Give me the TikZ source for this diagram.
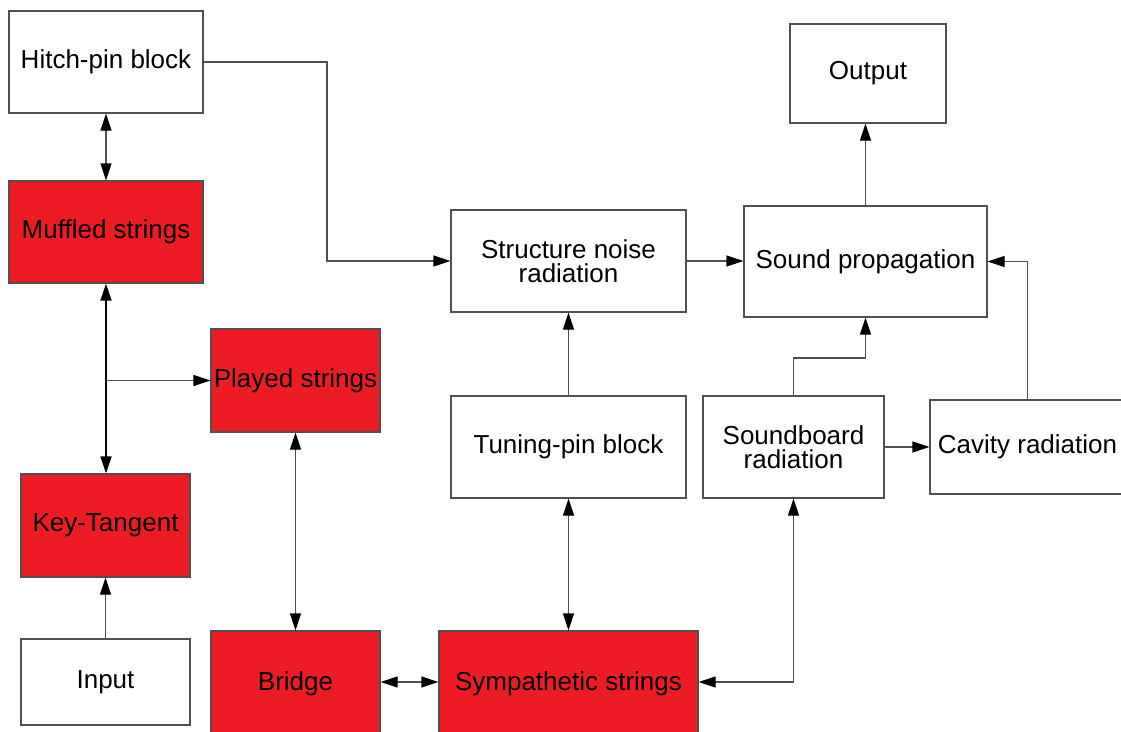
\documentclass[tikz,border=0pt]{standalone}
\usepackage{fontspec}
\setmainfont{Liberation Sans}
\usetikzlibrary{arrows.meta}
\definecolor{boxred}{HTML}{ED1C24}
\definecolor{edge}{HTML}{505050}
\begin{document}
\begin{tikzpicture}[x=1pt,y=-1pt,
  blk/.style={draw=edge,line width=1.3pt,rectangle,inner sep=0pt,align=center,
    font=\fontsize{26}{24.5}\selectfont,text=black},
  wbox/.style={blk,fill=white},
  rbox/.style={blk,fill=boxred},
  conn/.style={draw=edge,line width=1.3pt,
    arrows={-Triangle[length=17pt,width=11pt,color=black]}},
  bconn/.style={conn,arrows={Triangle[length=17pt,width=11pt,color=black]-Triangle[length=17pt,width=11pt,color=black]}}
]
\useasboundingbox (0,0) rectangle (1121,731);
\node[wbox,minimum width=194pt,minimum height=102pt] (hitch) at (106,62) {Hitch-pin block};
\node[rbox,minimum width=194pt,minimum height=102pt] (muff) at (106,232) {Muffled strings};
\node[rbox,minimum width=169pt,minimum height=103pt] (played) at (295.5,380.5) {Played strings};
\node[rbox,minimum width=169pt,minimum height=103pt] (key) at (105.5,525.5) {Key-Tangent};
\node[wbox,minimum width=169pt,minimum height=86pt] (input) at (105.5,682) {Input};
\node[rbox,minimum width=169pt,minimum height=106pt] (bridge) at (295.5,684) {Bridge};
\node[rbox,minimum width=259pt,minimum height=106pt] (symp) at (568.5,684) {Sympathetic strings};
\node[wbox,minimum width=235pt,minimum height=102pt] (struct) at (568.5,261) {Structure noise\\radiation};
\node[wbox,minimum width=235pt,minimum height=102pt] (tuning) at (568.5,447) {Tuning-pin block};
\node[wbox,minimum width=181pt,minimum height=102pt] (sboard) at (793.5,447) {Soundboard\\radiation};
\node[wbox,minimum width=195pt,minimum height=94pt] (cavity) at (1027.5,447) {Cavity radiation};
\node[wbox,minimum width=243pt,minimum height=111pt] (prop) at (865.5,261.5) {Sound propagation};
\node[wbox,minimum width=156pt,minimum height=99pt] (output) at (868,73.5) {Output};

\coordinate (k1) at (327,62);
\coordinate (b1) at (106,380.5);
\coordinate (k2) at (865.5,358);
\coordinate (k4) at (0,682);

\draw[bconn] (hitch.south) -- (muff.north);
\draw[conn] (hitch.east) -- (k1) |- (struct.west);
\draw[bconn,draw=black,line width=1.8pt] (muff.south) -- (muff.south |- key.north);
\draw[conn] (b1) -- (played.west);
\draw[conn] (input.north) -- (key.south);
\draw[bconn] (played.south) -- (bridge.north);
\draw[bconn] (bridge.east |- k4) -- (symp.west |- k4);
\draw[bconn] (symp.north) -- (tuning.south);
\draw[conn] (tuning.north) -- (struct.south);
\draw[conn] (struct.east) -- (struct.east -| prop.west);
\draw[bconn] (symp.east |- k4) -| (sboard.south);
\draw[conn] (sboard.north) |- (k2) -- (prop.south);
\draw[conn] (sboard.east) -- (cavity.west);
\draw[conn] (cavity.north) |- (prop.east);
\draw[conn] (prop.north) -- (prop.north |- output.south);
\end{tikzpicture}
\end{document}
